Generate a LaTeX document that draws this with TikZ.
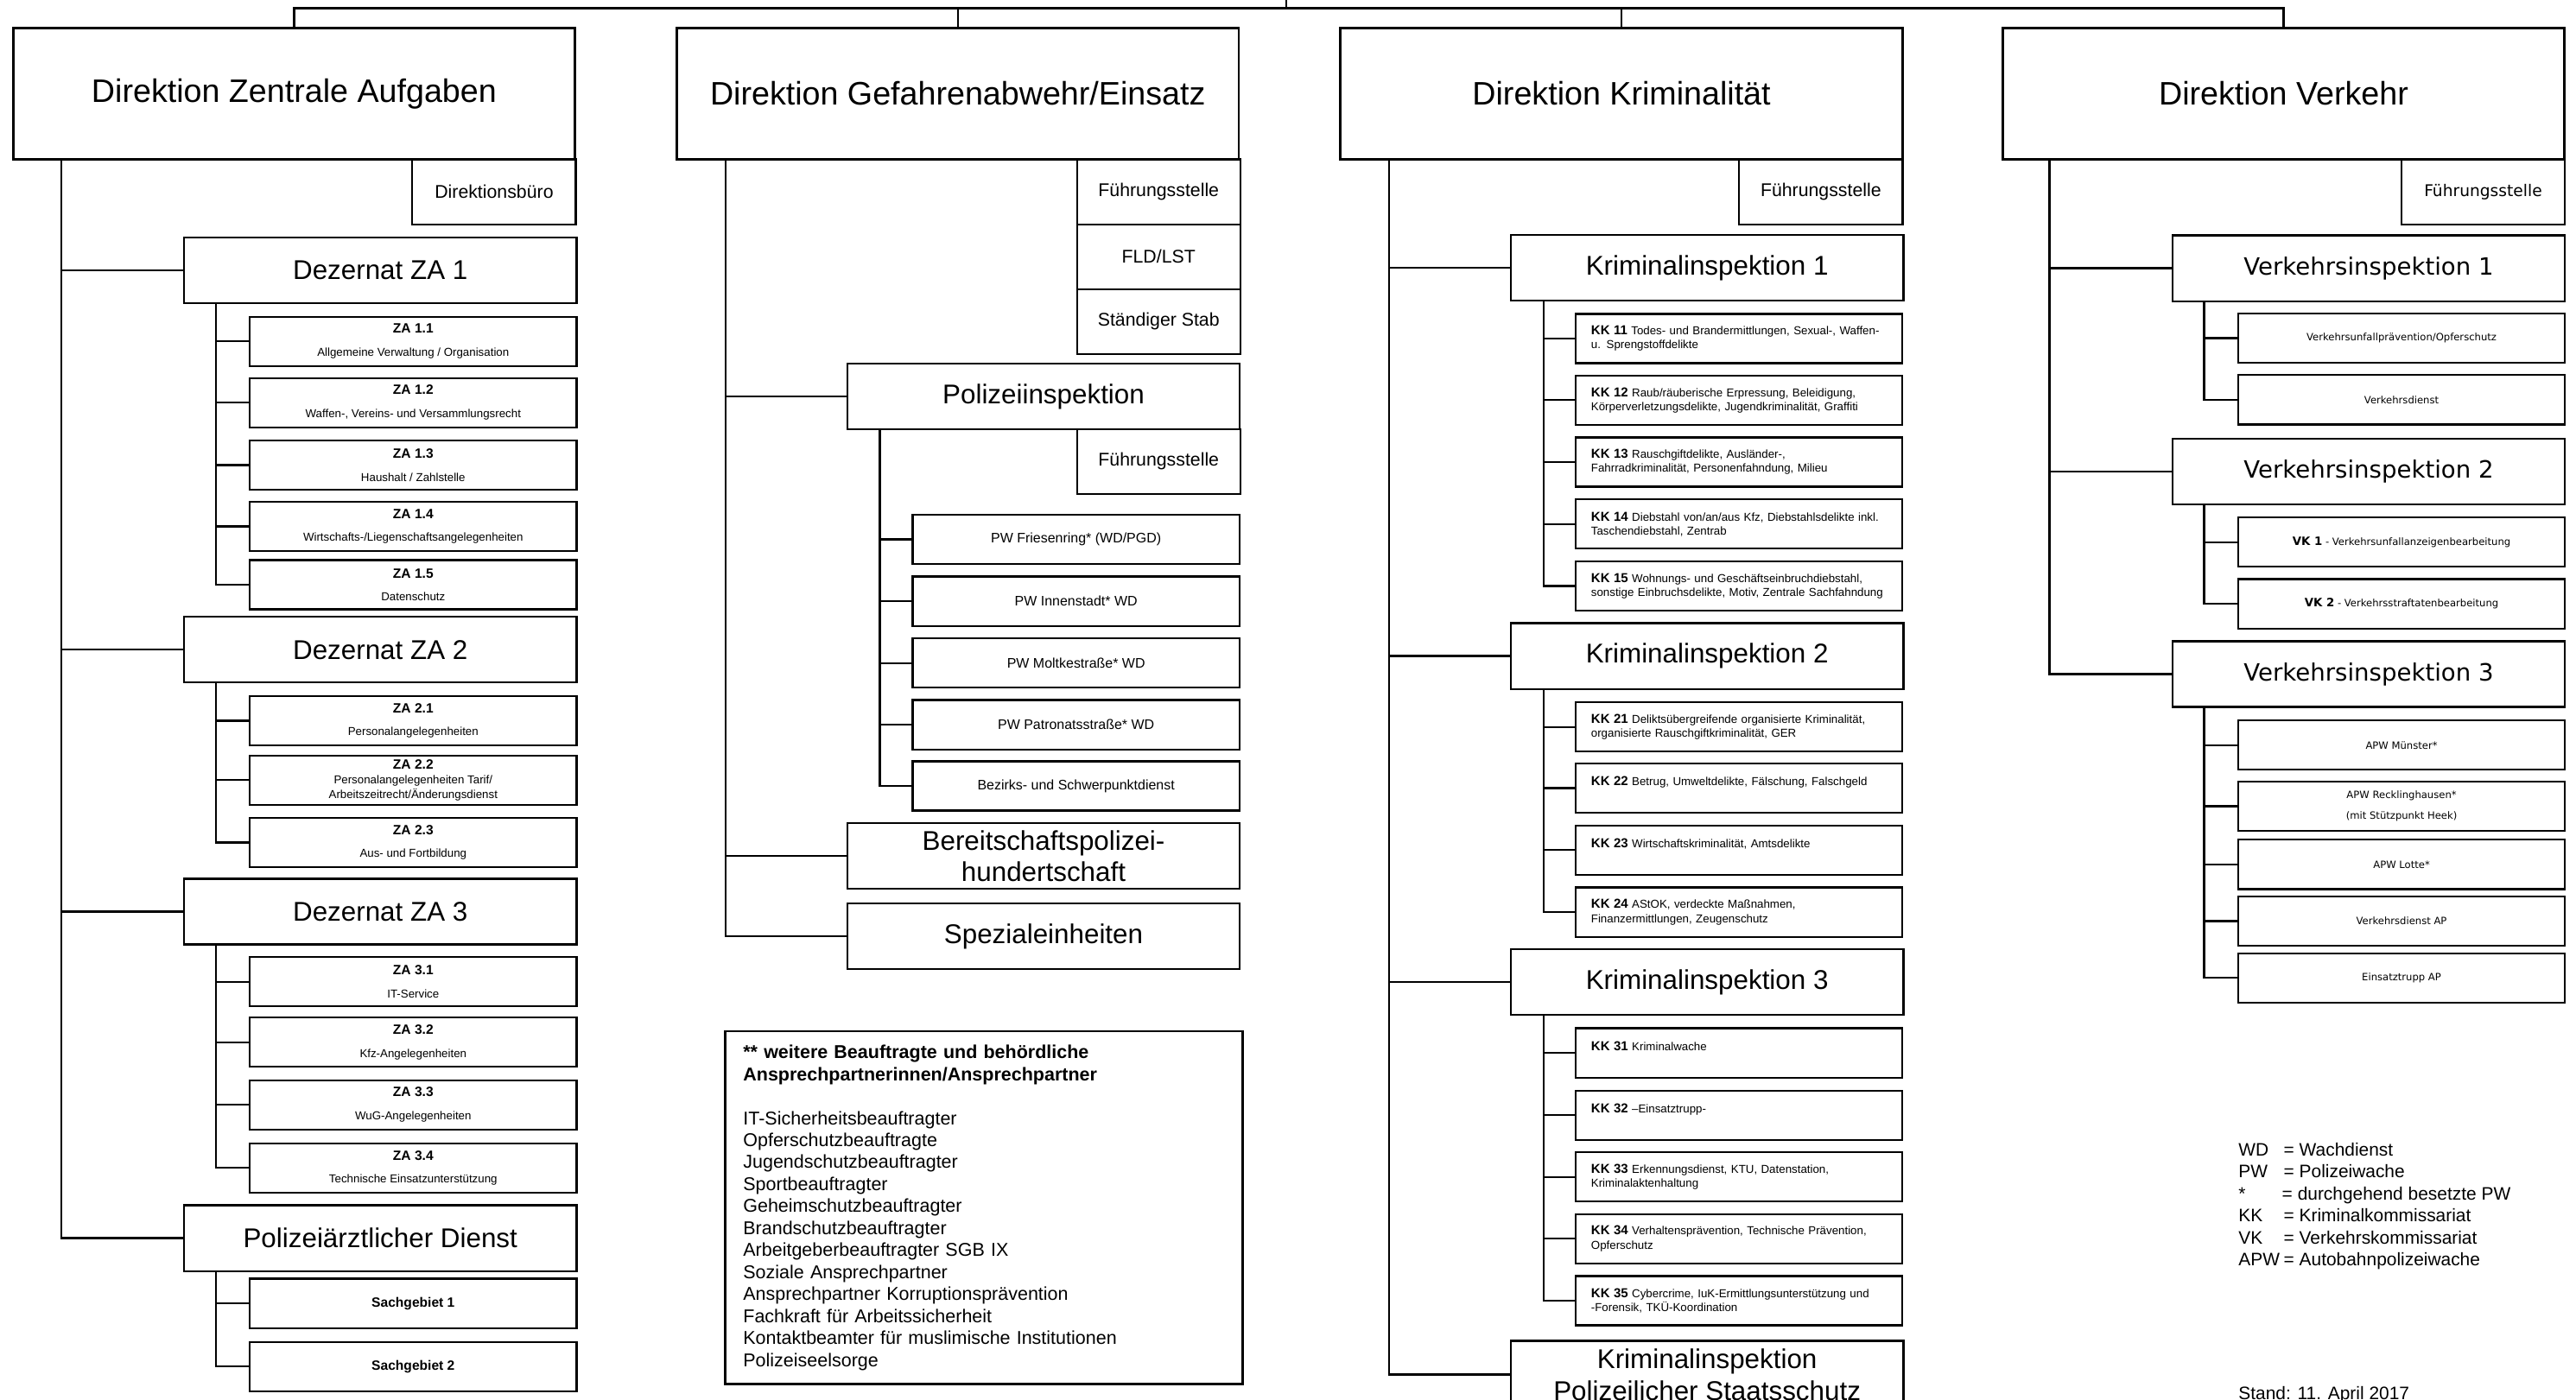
\documentclass[tikz,border=0pt]{standalone}
\usepackage{fontspec}
\setmainfont{Liberation Sans}
\newfontfamily\vkfont{DejaVu Sans}
\usepackage{tikz}
\usetikzlibrary{positioning}
\newcommand{\zt}[1]{{\fontsize{8.2}{14}\selectfont\bfseries #1}}
\newcommand{\kt}[1]{{\fontsize{7.9}{8.5}\selectfont\bfseries #1}}
\newcommand{\vt}[1]{{\fontsize{7}{8}\selectfont\bfseries #1}}

\begin{document}
\begin{tikzpicture}[x=1pt, y=-1pt, line width=1.15pt,
	box/.style={draw, inner sep=0pt, outer sep=0pt, anchor=north west, align=center},
	head/.style={box, line width=1.5pt, minimum width=342pt, minimum height=80pt, font=\fontsize{19.8}{23}\selectfont},
	unit/.style={box, minimum width=239pt, minimum height=40pt, font=\fontsize{16.5}{18.5}\selectfont},
	side/.style={box, minimum width=99.5pt, minimum height=39.5pt, font=\fontsize{11.2}{13}\selectfont},
	sub/.style={box, minimum width=199pt, minimum height=30pt, font=\fontsize{7}{14}\selectfont},
	pw/.style={box, minimum width=199pt, minimum height=30pt, font=\fontsize{8.4}{10}\selectfont},
	kk/.style={box, minimum width=199pt, minimum height=30pt, text width=180pt, align=left, font=\fontsize{7}{8.5}\selectfont},
	vk/.style={box, minimum width=199pt, minimum height=30pt, font=\vkfont\fontsize{6.1}{12.5}\selectfont},
	vkunit/.style={unit, font=\vkfont\fontsize{14.5}{17}\selectfont}]
		\clip (0,0) rectangle (1568,852);
		\fill[white] (0,0) rectangle (1568,852);
		% Direktionen
		\node[head] (dza) at (8,17) {Direktion Zentrale Aufgaben};
		\node[head] (dge) at (412,17) {Direktion Gefahrenabwehr/Einsatz};
		\node[head] (dkr) at (816,17) {Direktion Kriminalität};
		\node[head] (dvk) at (1219,17) {Direktion Verkehr};
		\coordinate (top) at (783,0);
		\draw (top) -- ++(0,5);
		\draw (dza.north) -- ++(0,-12) -| (dvk.north);
		\draw (dge.north) -- ++(0,-12);
		\draw (dkr.north) -- ++(0,-12);

		% Zentrale Aufgaben
		\node[side] (dbuero) at (251,97) {Direktionsbüro};
		\node[unit] (dez1) at (112,144.6) {Dezernat ZA 1};
		\node[sub] (za11) at (152,192.8) {\zt{ZA 1.1}\\Allgemeine Verwaltung / Organisation};
		\node[sub] (za12) at (152,230.1) {\zt{ZA 1.2}\\Waffen-, Vereins- und Versammlungsrecht};
		\node[sub] (za13) at (152,268.1) {\zt{ZA 1.3}\\Haushalt / Zahlstelle};
		\node[sub] (za14) at (152,305.5) {\zt{ZA 1.4}\\Wirtschafts-/Liegenschaftsangelegenheiten};
		\node[sub] (za15) at (152,341) {\zt{ZA 1.5}\\Datenschutz};
		\node[unit] (dez2) at (112,375.6) {Dezernat ZA 2};
		\node[sub] (za21) at (152,423.8) {\zt{ZA 2.1}\\Personalangelegenheiten};
		\node[sub, font=\fontsize{7}{8.8}\selectfont] (za22) at (152,460) {\zt{ZA 2.2}\\Personalangelegenheiten Tarif/\\Arbeitszeitrecht/Änderungsdienst};
		\node[sub] (za23) at (152,497.9) {\zt{ZA 2.3}\\Aus- und Fortbildung};
		\node[unit] (dez3) at (112,535) {Dezernat ZA 3};
		\node[sub] (za31) at (152,582.7) {\zt{ZA 3.1}\\IT-Service};
		\node[sub] (za32) at (152,619.5) {\zt{ZA 3.2}\\Kfz-Angelegenheiten};
		\node[sub] (za33) at (152,657.6) {\zt{ZA 3.3}\\WuG-Angelegenheiten};
		\node[sub] (za34) at (152,696.1) {\zt{ZA 3.4}\\Technische Einsatzunterstützung};
		\node[unit] (pd) at (112,733.8) {Polizeiärztlicher Dienst};
		\node[sub] (sg1) at (152,778.5) {\zt{Sachgebiet 1}};
		\node[sub] (sg2) at (152,817) {\zt{Sachgebiet 2}};
		\coordinate (t1) at ([xshift=29.5pt]dza.south west);
		\draw (t1) |- (pd.west);
		\foreach \n in {dez1,dez2,dez3} \draw (t1 |- \n.west) -- (\n.west);
		\coordinate (s1) at ([xshift=19.4pt]dez1.south west);
		\draw (s1) |- (za15.west);
		\foreach \n in {za11,za12,za13,za14} \draw (s1 |- \n.west) -- (\n.west);
		\coordinate (s2) at ([xshift=19.4pt]dez2.south west);
		\draw (s2) |- (za23.west);
		\foreach \n in {za21,za22} \draw (s2 |- \n.west) -- (\n.west);
		\coordinate (s3) at ([xshift=19.4pt]dez3.south west);
		\draw (s3) |- (za34.west);
		\foreach \n in {za31,za32,za33} \draw (s3 |- \n.west) -- (\n.west);
		\coordinate (s4) at ([xshift=19.4pt]pd.south west);
		\draw (s4) |- (sg2.west);
		\draw (s4 |- sg1.west) -- (sg1.west);

		% Gefahrenabwehr/Einsatz
		\node[side] (fst1) at (655.5,97) {Führungsstelle};
		\node[side, below=0pt of fst1] (fld) {FLD/LST};
		\node[side, below=0pt of fld] (stab) {Ständiger Stab};
		\node[unit] (pi) at (515.7,221.4) {Polizeiinspektion};
		\node[side] (fst2) at (655.5,261.2) {Führungsstelle};
		\node[pw] (pw1) at (555.5,313.4) {PW Friesenring* (WD/PGD)};
		\node[pw] (pw2) at (555.5,351) {PW Innenstadt* WD};
		\node[pw] (pw3) at (555.5,388.7) {PW Moltkestraße* WD};
		\node[pw] (pw4) at (555.5,426.2) {PW Patronatsstraße* WD};
		\node[pw] (pw5) at (555.5,463.5) {Bezirks- und Schwerpunktdienst};
		\node[unit] (bp) at (515.7,501.2) {Bereitschaftspolizei-\\hundertschaft};
		\node[unit] (spez) at (515.7,550) {Spezialeinheiten};
		\coordinate (t2) at ([xshift=29.6pt]dge.south west);
		\draw (t2) |- (spez.west);
		\foreach \n in {pi,bp} \draw (t2 |- \n.west) -- (\n.west);
		\coordinate (s5) at ([xshift=19.8pt]pi.south west);
		\draw (s5) |- (pw5.west);
		\foreach \n in {pw1,pw2,pw3,pw4} \draw (s5 |- \n.west) -- (\n.west);
		\node[box, minimum width=315pt, minimum height=214.6pt, text width=293pt, align=left, font=\fontsize{11.3}{13.4}\selectfont] (beauf) at (441.4,628)
			{\textbf{** weitere Beauftragte und behördliche}\\\textbf{Ansprechpartnerinnen/Ansprechpartner}\\[13.4pt]
			IT-Sicherheitsbeauftragter\\Opferschutzbeauftragte\\Jugendschutzbeauftragter\\Sportbeauftragter\\
			Geheimschutzbeauftragter\\Brandschutzbeauftragter\\Arbeitgeberbeauftragter SGB IX\\Soziale Ansprechpartner\\
			Ansprechpartner Korruptionsprävention\\Fachkraft für Arbeitssicherheit\\Kontaktbeamter für muslimische Institutionen\\Polizeiseelsorge};

		% Kriminalitaet
		\node[side] (fst3) at (1058.6,97) {Führungsstelle};
		\node[unit] (ki1) at (919.6,143) {Kriminalinspektion 1};
		\node[kk] (kk11) at (959,191.1) {\kt{KK 11} Todes- und Brandermittlungen, Sexual-, Waffen-\\u. Sprengstoffdelikte};
		\node[kk] (kk12) at (959,228.6) {\kt{KK 12} Raub/räuberische Erpressung, Beleidigung,\\Körperverletzungsdelikte, Jugendkriminalität, Graffiti};
		\node[kk] (kk13) at (959,266.3) {\kt{KK 13} Rauschgiftdelikte, Ausländer-,\\Fahrradkriminalität, Personenfahndung, Milieu};
		\node[kk] (kk14) at (959,304.1) {\kt{KK 14} Diebstahl von/an/aus Kfz, Diebstahlsdelikte inkl.\\Taschendiebstahl, Zentrab};
		\node[kk] (kk15) at (959,341.8) {\kt{KK 15} Wohnungs- und Geschäftseinbruchdiebstahl,\\sonstige Einbruchsdelikte, Motiv, Zentrale Sachfahndung};
		\node[unit] (ki2) at (919.6,379.4) {Kriminalinspektion 2};
		\node[kk] (kk21) at (959,427.6) {\kt{KK 21} Deliktsübergreifende organisierte Kriminalität,\\organisierte Rauschgiftkriminalität, GER};
		\node[kk] (kk22) at (959,464.8) {\kt{KK 22} Betrug, Umweltdelikte, Fälschung, Falschgeld\\\mbox{}};
		\node[kk] (kk23) at (959,502.6) {\kt{KK 23} Wirtschaftskriminalität, Amtsdelikte\\\mbox{}};
		\node[kk] (kk24) at (959,540.3) {\kt{KK 24} AStOK, verdeckte Maßnahmen,\\Finanzermittlungen, Zeugenschutz};
		\node[unit] (ki3) at (919.6,578) {Kriminalinspektion 3};
		\node[kk] (kk31) at (959,626) {\kt{KK 31} Kriminalwache\\\mbox{}};
		\node[kk] (kk32) at (959,663.9) {\kt{KK 32} –Einsatztrupp-\\\mbox{}};
		\node[kk] (kk33) at (959,701.5) {\kt{KK 33} Erkennungsdienst, KTU, Datenstation,\\Kriminalaktenhaltung};
		\node[kk] (kk34) at (959,739.1) {\kt{KK 34} Verhaltensprävention, Technische Prävention,\\Opferschutz};
		\node[kk] (kk35) at (959,776.9) {\kt{KK 35} Cybercrime, IuK-Ermittlungsunterstützung und\\-Forensik, TKÜ-Koordination};
		\node[unit, minimum height=41pt, font=\fontsize{16.5}{19.5}\selectfont] (kips) at (919.6,816.3) {Kriminalinspektion\\Polizeilicher Staatsschutz};
		\coordinate (t3) at ([xshift=29.3pt]dkr.south west);
		\draw (t3) |- (kips.west);
		\foreach \n in {ki1,ki2,ki3} \draw (t3 |- \n.west) -- (\n.west);
		\coordinate (s6) at ([xshift=19.9pt]ki1.south west);
		\draw (s6) |- (kk15.west);
		\foreach \n in {kk11,kk12,kk13,kk14} \draw (s6 |- \n.west) -- (\n.west);
		\coordinate (s7) at ([xshift=19.9pt]ki2.south west);
		\draw (s7) |- (kk24.west);
		\foreach \n in {kk21,kk22,kk23} \draw (s7 |- \n.west) -- (\n.west);
		\coordinate (s8) at ([xshift=19.9pt]ki3.south west);
		\draw (s8) |- (kk35.west);
		\foreach \n in {kk31,kk32,kk33,kk34} \draw (s8 |- \n.west) -- (\n.west);

		% Verkehr
		\node[side, font=\vkfont\fontsize{9.8}{12}\selectfont] (fst4) at (1461.7,97.3) {Führungsstelle};
		\node[vkunit] (vi1) at (1322.3,143.3) {Verkehrsinspektion 1};
		\node[vk] (vup) at (1362.3,190.9) {Verkehrsunfallprävention/Opferschutz};
		\node[vk] (vdi) at (1362.3,228.4) {Verkehrsdienst};
		\node[vkunit] (vi2) at (1322.3,267.2) {Verkehrsinspektion 2};
		\node[vk] (vk1) at (1362.3,315.1) {\vt{VK 1} - Verkehrsunfallanzeigenbearbeitung};
		\node[vk] (vk2) at (1362.3,352.6) {\vt{VK 2} - Verkehrsstraftatenbearbeitung};
		\node[vkunit] (vi3) at (1322.3,390.4) {Verkehrsinspektion 3};
		\node[vk] (apw1) at (1362.3,438.7) {APW Münster*};
		\node[vk] (apw2) at (1362.3,475.8) {APW Recklinghausen*\\(mit Stützpunkt Heek)};
		\node[vk] (apw3) at (1362.3,511.3) {APW Lotte*};
		\node[vk] (vdap) at (1362.3,545.8) {Verkehrsdienst AP};
		\node[vk] (etap) at (1362.3,580.3) {Einsatztrupp AP};
		\coordinate (t4) at ([xshift=28.5pt]dvk.south west);
		\draw (t4) |- (vi3.west);
		\foreach \n in {vi1,vi2} \draw (t4 |- \n.west) -- (\n.west);
		\coordinate (s9) at ([xshift=19.3pt]vi1.south west);
		\draw (s9) |- (vdi.west);
		\draw (s9 |- vup.west) -- (vup.west);
		\coordinate (s10) at ([xshift=19.3pt]vi2.south west);
		\draw (s10) |- (vk2.west);
		\draw (s10 |- vk1.west) -- (vk1.west);
		\coordinate (s11) at ([xshift=19.3pt]vi3.south west);
		\draw (s11) |- (etap.west);
		\foreach \n in {apw1,apw2,apw3,vdap} \draw (s11 |- \n.west) -- (\n.west);

		\node[anchor=north west, align=left, inner sep=0pt, font=\fontsize{11}{13.45}\selectfont] (legende) at (1362,695)
			{\makebox[27.5pt][l]{WD}= Wachdienst\\\makebox[27.5pt][l]{PW}= Polizeiwache\\\makebox[26.5pt][l]{*}= durchgehend besetzte PW\\
			\makebox[27.5pt][l]{KK}= Kriminalkommissariat\\\makebox[27.5pt][l]{VK}= Verkehrskommissariat\\\makebox[27.5pt][l]{APW}= Autobahnpolizeiwache};
		\node[anchor=base west, inner sep=0pt, font=\fontsize{11}{13}\selectfont] (stand) at (1362,852) {Stand: 11. April 2017};
		\end{tikzpicture}
\end{document}
